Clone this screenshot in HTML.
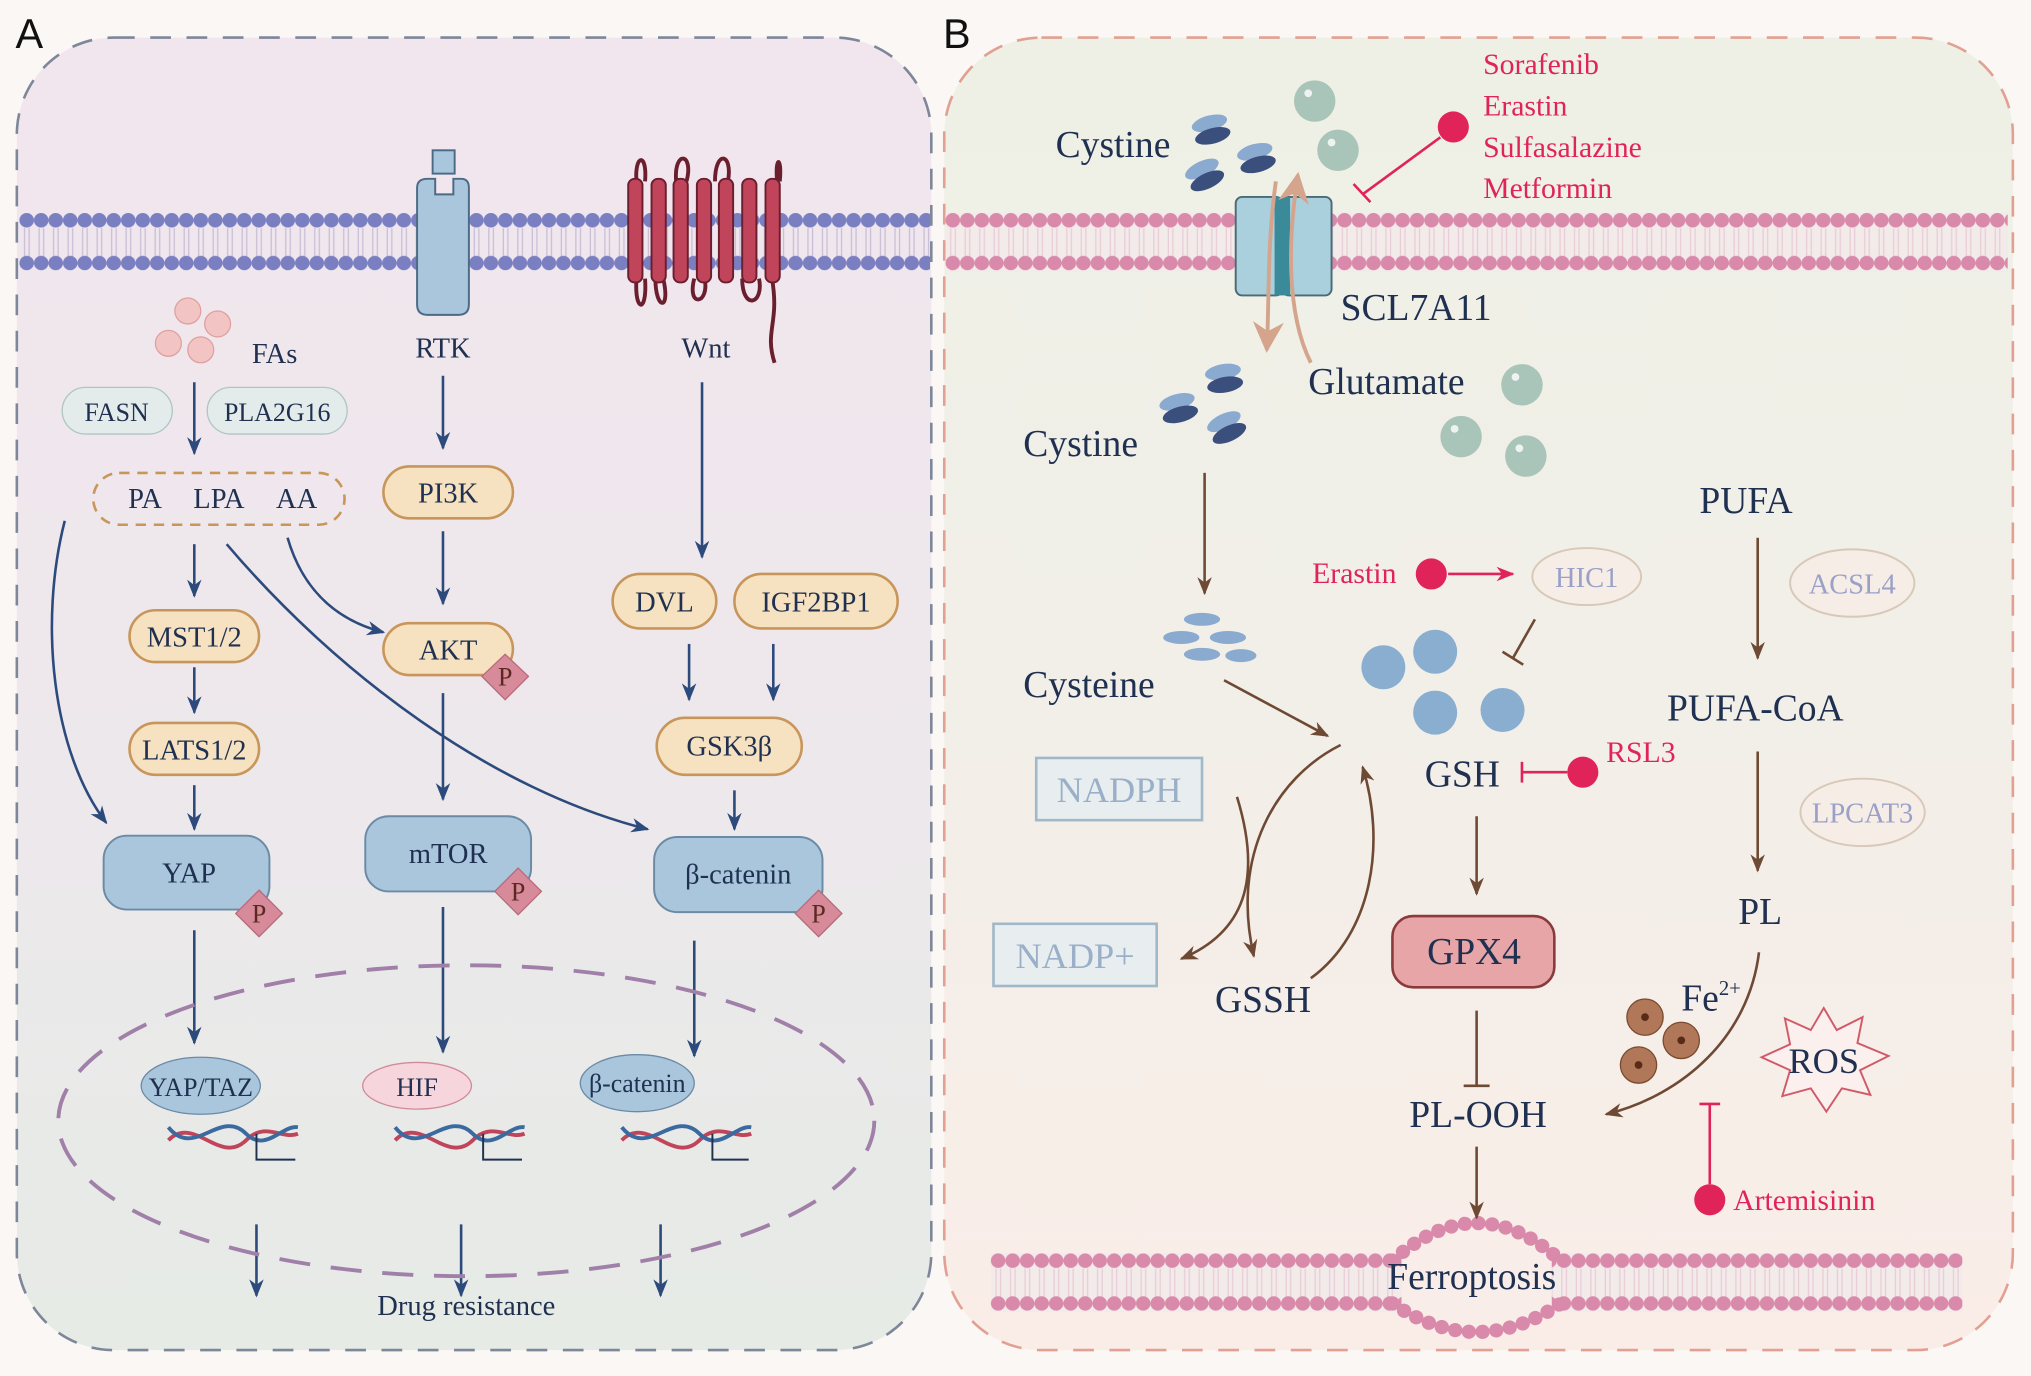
<!DOCTYPE html>
<html><head><meta charset="utf-8"><style>
html,body{margin:0;padding:0;background:#fbf7f4;}
svg{display:block;font-family:"Liberation Serif",serif;}
</style></head><body>
<svg width="2031" height="1376" viewBox="0 0 1568 1062" preserveAspectRatio="none" xmlns="http://www.w3.org/2000/svg">
<defs>
<linearGradient id="gA" x1="0" y1="0" x2="0" y2="1"><stop offset="0" stop-color="#f2e6ee"/><stop offset="0.55" stop-color="#ede8ec"/><stop offset="1" stop-color="#e6ebe6"/></linearGradient>
<linearGradient id="gB" x1="0" y1="0" x2="0" y2="1"><stop offset="0" stop-color="#eef0e6"/><stop offset="0.45" stop-color="#f1efe8"/><stop offset="1" stop-color="#faede8"/></linearGradient>
<pattern id="mA" x="15" y="164" width="11.2" height="46" patternUnits="userSpaceOnUse"><line x1="4" y1="12" x2="4" y2="34" stroke="#c9bfd6" stroke-width="1"/><line x1="7.5" y1="12" x2="7.5" y2="34" stroke="#c9bfd6" stroke-width="1"/><circle cx="5.6" cy="6" r="5.6" fill="#7a7fc2"/><circle cx="5.6" cy="39" r="5.6" fill="#7a7fc2"/></pattern>
<pattern id="mB" x="730" y="164" width="11.2" height="46" patternUnits="userSpaceOnUse"><line x1="4" y1="12" x2="4" y2="34" stroke="#e8cdd6" stroke-width="1"/><line x1="7.5" y1="12" x2="7.5" y2="34" stroke="#e8cdd6" stroke-width="1"/><circle cx="5.6" cy="6" r="5.6" fill="#d98aab"/><circle cx="5.6" cy="39" r="5.6" fill="#d98aab"/></pattern>
<pattern id="mB2" x="765" y="967" width="11.2" height="46" patternUnits="userSpaceOnUse"><line x1="4" y1="12" x2="4" y2="34" stroke="#e8cdd6" stroke-width="1"/><line x1="7.5" y1="12" x2="7.5" y2="34" stroke="#e8cdd6" stroke-width="1"/><circle cx="5.6" cy="6" r="5.6" fill="#d98aab"/><circle cx="5.6" cy="39" r="5.6" fill="#d98aab"/></pattern>
<marker id="ab" viewBox="0 0 10 10" refX="9" refY="5" markerWidth="7" markerHeight="7" orient="auto"><path d="M0,1 L10,5 L0,9 L3,5z" fill="#2c4a7c"/></marker>
<marker id="ar" viewBox="0 0 10 10" refX="9" refY="5" markerWidth="7" markerHeight="7" orient="auto"><path d="M0,1 L10,5 L0,9 L3,5z" fill="#6e4a34"/></marker>
<marker id="at" viewBox="0 0 10 10" refX="9" refY="5" markerWidth="8" markerHeight="8" orient="auto"><path d="M0,0 L10,5 L0,10 L3,5z" fill="#d4a48c"/></marker>
<marker id="ap" viewBox="0 0 10 10" refX="9" refY="5" markerWidth="7" markerHeight="7" orient="auto"><path d="M0,1 L10,5 L0,9 L3,5z" fill="#e0245a"/></marker>
</defs>
<rect width="1568" height="1062" fill="#fbf7f4"/>
<rect x="13" y="29" width="706" height="1013" rx="75" fill="url(#gA)" stroke="#7d8799" stroke-width="2" stroke-dasharray="16,12"/>
<rect x="729" y="29" width="825" height="1013" rx="75" fill="url(#gB)" stroke="#e2a092" stroke-width="2" stroke-dasharray="16,12"/>
<text x="12" y="37" font-family="Liberation Sans,sans-serif" font-size="32" fill="#111">A</text>
<text x="728" y="37" font-family="Liberation Sans,sans-serif" font-size="32" fill="#111">B</text>

<rect x="15" y="164" width="703" height="46" fill="#efe6ee"/>
<rect x="15" y="164" width="703" height="46" fill="url(#mA)"/>
<rect x="730" y="164" width="820" height="46" fill="#f3eaea"/>
<rect x="730" y="164" width="820" height="46" fill="url(#mB)"/>
<rect x="765" y="967" width="750" height="46" fill="#f3eaea"/>
<rect x="765" y="967" width="750" height="46" fill="url(#mB2)"/>
<rect x="1082" y="962" width="116" height="56" fill="#f8ede9"/>
<path d="M1075,973 Q1140,915 1205,973 M1075,1006 Q1140,1050 1205,1006" fill="none" stroke="#d98aab" stroke-width="11" stroke-dasharray="0.1,10.5" stroke-linecap="round"/>

<rect x="334" y="116" width="17" height="18" fill="#a9c6dc" stroke="#4a6a85" stroke-width="1.5"/>
<path d="M322,145 Q322,138 330,138 L336,138 L336,150 L350,150 L350,138 L356,138 Q362,138 362,145 L362,235 Q362,243 354,243 L330,243 Q322,243 322,235Z" fill="#a9c6dc" stroke="#4a6a85" stroke-width="1.5"/>
<path d="M492,145 C488,120 500,115 498,140 M506,215 C506,240 518,240 512,215 M522,140 C520,115 536,118 530,140 M544,215 C548,235 530,238 536,215 M552,140 C552,115 566,118 562,140 M573,215 C573,240 590,235 586,215 M600,140 C598,120 604,120 602,140 M596,215 C602,250 590,255 598,280 M492,210 C488,240 500,245 498,215" fill="none" stroke="#6a1e2e" stroke-width="3"/>
<g fill="#c0455a" stroke="#6a1e2e" stroke-width="1.5">
<rect x="485" y="138" width="11" height="80" rx="5"/><rect x="503" y="138" width="11" height="80" rx="5"/><rect x="520" y="138" width="11" height="80" rx="5"/><rect x="538" y="138" width="11" height="80" rx="5"/><rect x="555" y="138" width="11" height="80" rx="5"/><rect x="573" y="138" width="11" height="80" rx="5"/><rect x="591" y="138" width="11" height="80" rx="5"/>
</g>

<g font-size="22" fill="#1f3050" text-anchor="middle">
<g fill="#f2c4c4" stroke="#e0a0a0"><circle cx="145" cy="240" r="10"/><circle cx="168" cy="250" r="10"/><circle cx="130" cy="265" r="10"/><circle cx="155" cy="270" r="10"/></g>
<text x="212" y="280">FAs</text>
<rect x="48" y="299" width="85" height="36" rx="18" fill="#e3ecea" stroke="#b0c4c4"/><text x="90" y="325" font-size="20">FASN</text>
<rect x="160" y="299" width="108" height="36" rx="18" fill="#e3ecea" stroke="#b0c4c4"/><text x="214" y="325" font-size="20">PLA2G16</text>
<rect x="72" y="365" width="194" height="40" rx="20" fill="none" stroke="#c8965a" stroke-width="2" stroke-dasharray="8,6"/>
<text x="112" y="392">PA</text><text x="169" y="392">LPA</text><text x="229" y="392">AA</text>
<text x="342" y="276">RTK</text>
<text x="545" y="276">Wnt</text>
<g fill="#f6e2c0" stroke="#c8965a" stroke-width="2">
<rect x="296" y="360" width="100" height="40" rx="20"/><rect x="296" y="481" width="100" height="40" rx="20"/>
<rect x="100" y="471" width="100" height="40" rx="20"/><rect x="100" y="558" width="100" height="40" rx="20"/>
<rect x="473" y="443" width="80" height="42" rx="21"/><rect x="567" y="443" width="126" height="42" rx="21"/>
<rect x="507" y="554" width="112" height="44" rx="22"/>
</g>
<text x="346" y="388">PI3K</text><text x="346" y="509">AKT</text>
<text x="150" y="499">MST1/2</text><text x="150" y="586">LATS1/2</text>
<text x="513" y="472">DVL</text><text x="630" y="472">IGF2BP1</text><text x="563" y="583">GSK3β</text>
<g fill="#a9c6dc" stroke="#6a8aa5" stroke-width="1.5">
<rect x="80" y="645" width="128" height="57" rx="18"/><rect x="282" y="630" width="128" height="58" rx="18"/><rect x="505" y="646" width="130" height="58" rx="18"/>
</g>
<text x="146" y="681">YAP</text><text x="346" y="666">mTOR</text><text x="570" y="682">β-catenin</text>
<g fill="#d68a9a" stroke="#b86a7a"><path d="M390,505 L408,522 L390,540 L372,522Z"/><path d="M200,687 L218,705 L200,723 L182,705Z"/><path d="M400,670 L418,688 L400,706 L382,688Z"/><path d="M632,687 L650,705 L632,723 L614,705Z"/></g>
<g font-size="20" fill="#5a2a20"><text x="390" y="529">P</text><text x="200" y="712">P</text><text x="400" y="695">P</text><text x="632" y="712">P</text></g>
</g>
<g stroke="#2c4a7c" stroke-width="2" fill="none" marker-end="url(#ab)">
<line x1="150" y1="295" x2="150" y2="350"/><line x1="342" y1="290" x2="342" y2="346"/><line x1="342" y1="410" x2="342" y2="466"/>
<line x1="342" y1="535" x2="342" y2="617"/><line x1="342" y1="700" x2="342" y2="812"/>
<line x1="542" y1="295" x2="542" y2="430"/><line x1="532" y1="497" x2="532" y2="540"/><line x1="597" y1="497" x2="597" y2="540"/>
<line x1="567" y1="610" x2="567" y2="640"/><line x1="536" y1="726" x2="536" y2="815"/>
<line x1="150" y1="420" x2="150" y2="460"/><line x1="150" y1="515" x2="150" y2="550"/><line x1="150" y1="606" x2="150" y2="640"/>
<line x1="150" y1="718" x2="150" y2="805"/>
<path d="M50,402 C30,480 40,580 82,635"/><path d="M175,420 C260,520 380,610 500,640"/><path d="M222,415 C235,460 265,480 296,488"/>
<line x1="198" y1="945" x2="198" y2="1000"/><line x1="356" y1="945" x2="356" y2="1000"/><line x1="510" y1="945" x2="510" y2="1000"/>
</g>
<ellipse cx="360" cy="865" rx="315" ry="120" fill="none" stroke="#a080a8" stroke-width="3" stroke-dasharray="24,16"/>
<g fill="none" stroke-width="3">
<g stroke="#c0455a"><path d="M130,880 C150,860 170,900 190,880 C205,865 218,880 230,875"/><path d="M305,880 C325,860 345,900 365,880 C380,865 393,880 405,875"/><path d="M480,880 C500,860 520,900 540,880 C555,865 568,880 580,875"/></g>
<g stroke="#3a6aa0"><path d="M130,870 C150,895 170,855 190,875 C205,890 218,868 230,870"/><path d="M305,870 C325,895 345,855 365,875 C380,890 393,868 405,870"/><path d="M480,870 C500,895 520,855 540,875 C555,890 568,868 580,870"/></g>
<g stroke="#1f3050" stroke-width="1.5"><path d="M198,875 V895 H228"/><path d="M373,875 V895 H403"/><path d="M550,875 V895 H578"/></g>
</g>
<g font-size="20" fill="#1f3050" text-anchor="middle">
<ellipse cx="155" cy="838" rx="46" ry="22" fill="#a9c6dc" stroke="#6a8aa5"/><text x="155" y="846">YAP/TAZ</text>
<ellipse cx="322" cy="838" rx="42" ry="18" fill="#f6d6dc" stroke="#d08a9a"/><text x="322" y="846">HIF</text>
<ellipse cx="492" cy="836" rx="44" ry="22" fill="#a9c6dc" stroke="#6a8aa5"/><text x="492" y="843">β-catenin</text>
<text x="360" y="1015" font-size="22">Drug resistance</text>
</g>

<rect x="954" y="152" width="36" height="76" rx="5" fill="#a9d0dc" stroke="#4a6a75" stroke-width="1.5"/>
<rect x="990" y="152" width="38" height="76" rx="5" fill="#a9d0dc" stroke="#4a6a75" stroke-width="1.5"/>
<rect x="984" y="152" width="12" height="76" fill="#3a8a9a"/>
<g fill="none" stroke="#d4a48c" stroke-width="3">
<path d="M985,140 C978,190 980,235 978,270" marker-end="url(#at)"/>
<path d="M1012,280 C992,240 995,180 1002,135" marker-end="url(#at)"/>
</g>
<g>
<g transform="translate(935,100) rotate(-15)"><ellipse cx="0" cy="-5" rx="14" ry="6" fill="#8aaad0"/><ellipse cx="0" cy="5" rx="14" ry="6" fill="#3a4f7c"/></g>
<g transform="translate(970,122) rotate(-15)"><ellipse cx="0" cy="-5" rx="14" ry="6" fill="#8aaad0"/><ellipse cx="0" cy="5" rx="14" ry="6" fill="#3a4f7c"/></g>
<g transform="translate(930,135) rotate(-25)"><ellipse cx="0" cy="-5" rx="14" ry="6" fill="#8aaad0"/><ellipse cx="0" cy="5" rx="14" ry="6" fill="#3a4f7c"/></g>
<g transform="translate(945,292) rotate(-10)"><ellipse cx="0" cy="-5" rx="14" ry="6" fill="#8aaad0"/><ellipse cx="0" cy="5" rx="14" ry="6" fill="#3a4f7c"/></g>
<g transform="translate(910,315) rotate(-15)"><ellipse cx="0" cy="-5" rx="14" ry="6" fill="#8aaad0"/><ellipse cx="0" cy="5" rx="14" ry="6" fill="#3a4f7c"/></g>
<g transform="translate(947,330) rotate(-25)"><ellipse cx="0" cy="-5" rx="14" ry="6" fill="#8aaad0"/><ellipse cx="0" cy="5" rx="14" ry="6" fill="#3a4f7c"/></g>
</g>
<g fill="#8aaad0"><ellipse cx="928" cy="478" rx="14" ry="5"/><ellipse cx="912" cy="492" rx="14" ry="5"/><ellipse cx="948" cy="492" rx="14" ry="5"/><ellipse cx="928" cy="505" rx="14" ry="5"/><ellipse cx="958" cy="506" rx="12" ry="5"/></g>
<g fill="#a9c4b8"><circle cx="1015" cy="78" r="16"/><circle cx="1033" cy="116" r="16"/><circle cx="1175" cy="297" r="16"/><circle cx="1128" cy="337" r="16"/><circle cx="1178" cy="352" r="16"/></g>
<g fill="#8aaed0"><circle cx="1068" cy="515" r="17"/><circle cx="1108" cy="503" r="17"/><circle cx="1108" cy="550" r="17"/><circle cx="1160" cy="548" r="17"/></g>
<g fill="#fff" opacity="0.8"><circle cx="1010" cy="72" r="3"/><circle cx="1028" cy="110" r="3"/><circle cx="1170" cy="291" r="3"/><circle cx="1123" cy="331" r="3"/><circle cx="1173" cy="346" r="3"/></g>
<circle cx="1122" cy="98" r="12" fill="#e0245a"/>
<line x1="1112" y1="106" x2="1052" y2="150" stroke="#e0245a" stroke-width="2"/><line x1="1045" y1="142" x2="1058" y2="156" stroke="#e0245a" stroke-width="2"/>
<g font-size="23" fill="#e0245a"><text x="1145" y="57">Sorafenib</text><text x="1145" y="89">Erastin</text><text x="1145" y="121">Sulfasalazine</text><text x="1145" y="153">Metformin</text>
<text x="1013" y="450">Erastin</text><text x="1240" y="588">RSL3</text><text x="1338" y="934">Artemisinin</text></g>
<circle cx="1105" cy="443" r="12" fill="#e0245a"/><line x1="1118" y1="443" x2="1168" y2="443" stroke="#e0245a" stroke-width="2" marker-end="url(#ap)"/>
<circle cx="1222" cy="596" r="12" fill="#e0245a"/><line x1="1210" y1="596" x2="1175" y2="596" stroke="#e0245a" stroke-width="2"/><line x1="1175" y1="588" x2="1175" y2="604" stroke="#e0245a" stroke-width="2"/>
<circle cx="1320" cy="926" r="12" fill="#e0245a"/><line x1="1320" y1="914" x2="1320" y2="852" stroke="#e0245a" stroke-width="2"/><line x1="1312" y1="852" x2="1328" y2="852" stroke="#e0245a" stroke-width="2"/>
<g font-size="29" fill="#1f3050">
<text x="815" y="121">Cystine</text><text x="1035" y="247">SCL7A11</text><text x="1010" y="304">Glutamate</text>
<text x="790" y="352">Cystine</text><text x="790" y="538">Cysteine</text><text x="1100" y="607">GSH</text>
<text x="938" y="781">GSSH</text><text x="1088" y="870">PL-OOH</text><text x="1071" y="995">Ferroptosis</text>
<text x="1312" y="396">PUFA</text><text x="1287" y="556">PUFA-CoA</text><text x="1342" y="713">PL</text>
<text x="1298" y="780">Fe<tspan font-size="16" dy="-12">2+</tspan></text>
</g>
<ellipse cx="1225" cy="445" rx="42" ry="22" fill="#f6ede6" stroke="#d8c8b8" stroke-width="1.5"/><text x="1225" y="453" font-size="22" fill="#9aa0c8" text-anchor="middle">HIC1</text>
<ellipse cx="1430" cy="450" rx="48" ry="26" fill="#f6ede6" stroke="#d8c8b8" stroke-width="1.5"/><text x="1430" y="458" font-size="22" fill="#9aa0c8" text-anchor="middle">ACSL4</text>
<ellipse cx="1438" cy="627" rx="48" ry="26" fill="#f6ede6" stroke="#d8c8b8" stroke-width="1.5"/><text x="1438" y="635" font-size="22" fill="#9aa0c8" text-anchor="middle">LPCAT3</text>
<rect x="800" y="585" width="128" height="48" fill="#e8eef0" stroke="#a0b8c8" stroke-width="2"/><text x="864" y="619" font-size="28" fill="#9ab0c8" text-anchor="middle">NADPH</text>
<rect x="767" y="713" width="126" height="48" fill="#e8eef0" stroke="#a0b8c8" stroke-width="2"/><text x="830" y="747" font-size="28" fill="#9ab0c8" text-anchor="middle">NADP+</text>
<rect x="1075" y="707" width="125" height="55" rx="16" fill="#e8a5a8" stroke="#8a3a3a" stroke-width="2"/><text x="1138" y="744" font-size="29" fill="#1f3050" text-anchor="middle">GPX4</text>
<g fill="#b07858" stroke="#7a4a30"><circle cx="1270" cy="785" r="14"/><circle cx="1298" cy="803" r="14"/><circle cx="1265" cy="822" r="14"/></g>
<g fill="#5a2a18"><circle cx="1270" cy="785" r="3"/><circle cx="1298" cy="803" r="3"/><circle cx="1265" cy="822" r="3"/></g>
<path d="M1408,778 L1418,795 L1438,785 L1434,805 L1458,815 L1436,826 L1444,845 L1422,840 L1410,858 L1398,840 L1376,846 L1382,826 L1360,816 L1382,806 L1378,786 L1398,795Z" fill="#fbf0ee" stroke="#d05a6a" stroke-width="1.5"/>
<text x="1408" y="828" font-size="28" fill="#1f3050" text-anchor="middle">ROS</text>
<g stroke="#6e4a34" stroke-width="2" fill="none">
<line x1="930" y1="365" x2="930" y2="458" marker-end="url(#ar)"/>
<line x1="945" y1="525" x2="1025" y2="568" marker-end="url(#ar)"/>
<line x1="1140" y1="630" x2="1140" y2="690" marker-end="url(#ar)"/>
<line x1="1140" y1="780" x2="1140" y2="838"/><line x1="1130" y1="838" x2="1150" y2="838"/>
<line x1="1140" y1="885" x2="1140" y2="940" marker-end="url(#ar)"/>
<line x1="1357" y1="415" x2="1357" y2="508" marker-end="url(#ar)"/>
<line x1="1357" y1="580" x2="1357" y2="672" marker-end="url(#ar)"/>
<path d="M1358,735 C1350,800 1300,845 1240,860" marker-end="url(#ar)"/>
<path d="M1185,478 L1168,508"/><line x1="1160" y1="503" x2="1176" y2="513"/>
<path d="M955,615 C975,680 960,720 912,740" marker-end="url(#ar)"/>
<path d="M1035,575 C985,600 950,660 968,738" marker-end="url(#ar)"/>
<path d="M1012,755 C1060,720 1070,650 1052,592" marker-end="url(#ar)"/>
</g>
</svg>
</body></html>
